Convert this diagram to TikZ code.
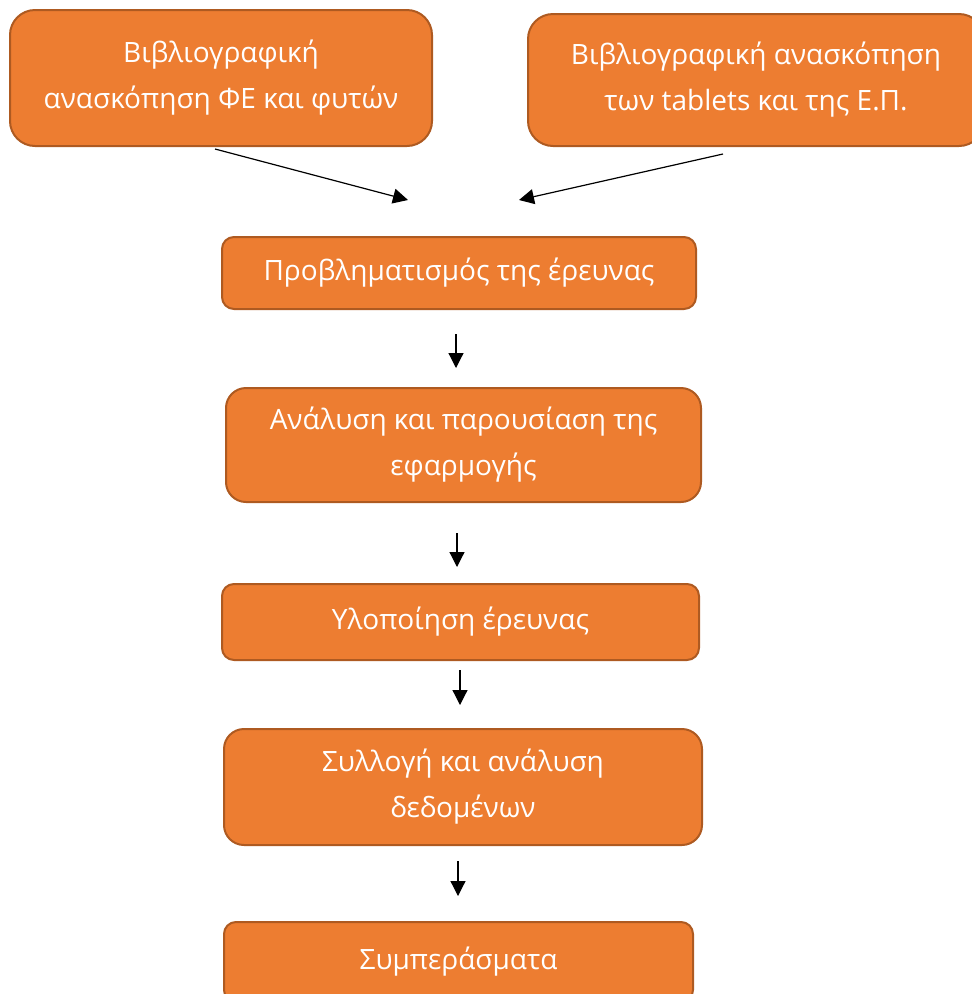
\documentclass[tikz,border=0pt]{standalone}
\usepackage{fontspec}
\setmainfont{Open Sans}
\usetikzlibrary{arrows.meta}
\definecolor{boxfill}{HTML}{ED7D31}
\definecolor{boxline}{HTML}{AE5A21}
\begin{document}
\begin{tikzpicture}[x=1pt,y=-1pt,
  box/.style={draw=boxline, fill=boxfill, line width=2pt, text=white, align=center,
    font=\fontsize{28}{46}\selectfont, inner sep=0pt},
  arr/.style={line width=1.2pt, -{Triangle[length=15pt,width=15pt]}}]
\useasboundingbox (0,0) rectangle (972,994);
\node[box, minimum width=422pt, minimum height=136pt, rounded corners=25pt] (A) at (221,78)
  {Βιβλιογραφική\\ανασκόπηση ΦΕ και φυτών};
\node[box, minimum width=456pt, minimum height=132pt, rounded corners=25pt] (B) at (756,80)
  {Βιβλιογραφική ανασκόπηση\\των tablets και της Ε.Π.};
\node[box, minimum width=474pt, minimum height=72pt, rounded corners=12pt] (C) at (459,273)
  {Προβληματισμός της έρευνας};
\node[box, minimum width=475pt, minimum height=114pt, rounded corners=20pt] (D) at (463.5,445)
  {Ανάλυση και παρουσίαση της\\εφαρμογής};
\node[box, minimum width=477pt, minimum height=76pt, rounded corners=12pt] (E) at (460.5,622)
  {Υλοποίηση έρευνας};
\node[box, minimum width=478pt, minimum height=116pt, rounded corners=20pt] (F) at (463,787)
  {Συλλογή και ανάλυση\\δεδομένων};
\node[box, minimum width=469pt, minimum height=80pt, rounded corners=12pt] (G) at (458.5,962)
  {Συμπεράσματα};
\coordinate (pA) at (408,200);
\coordinate (pB) at (519,200);
\draw[arr] ([xshift=-6pt,yshift=-2pt]A.south) -- (pA);
\draw[arr] ([xshift=-33pt,yshift=-7pt]B.south) -- (pB);
\draw[arr, shorten <=24pt, shorten >=19pt] ([xshift=-3pt]C.south) -- ([xshift=-3pt]C.south |- D.north);
\draw[arr, shorten <=30pt, shorten >=16pt] ([xshift=-6.5pt]D.south) -- ([xshift=-6.5pt]D.south |- E.north);
\draw[arr, shorten <=9pt, shorten >=23pt] ([xshift=-0.5pt]E.south) -- ([xshift=-0.5pt]E.south |- F.north);
\draw[arr, shorten <=15pt, shorten >=25pt] ([xshift=-5pt]F.south) -- ([xshift=-5pt]F.south |- G.north);
\end{tikzpicture}
\end{document}
